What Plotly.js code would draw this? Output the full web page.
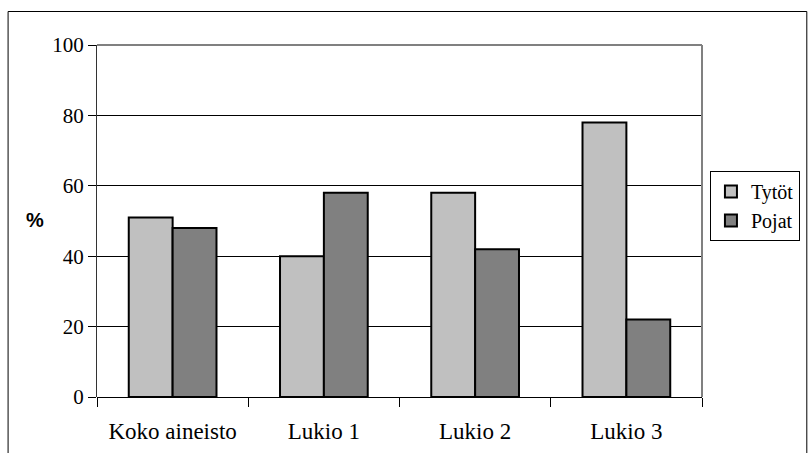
<!DOCTYPE html>
<html>
<head>
<meta charset="utf-8">
<script src="https://cdn.plot.ly/plotly-3.0.1.min.js"></script>
<style>
html,body{margin:0;padding:0;background:#fff;}
#chart{width:812px;height:453px;}
#chart .xtick text, #chart .ytick text, #chart .legendtext {
  font-family: "Liberation Serif", "Times New Roman", serif !important;
}
#chart .annotation text {
  font-family: "Liberation Sans", Arial, sans-serif !important;
}
</style>
</head>
<body>
<div id="chart"></div>
<script>
const categories = ["Koko aineisto", "Lukio 1", "Lukio 2", "Lukio 3"];
const tytot = [51, 40, 58, 78];
const pojat = [48, 58, 42, 22];
const seriesNames = ["Tytöt", "Pojat"];
const yTicks = [0, 20, 40, 60, 80, 100];

const serif = "Liberation Serif, Times New Roman, serif";

const traces = [
  {type: "bar", name: seriesNames[0], x: categories, y: tytot,
   marker: {color: "#c0c0c0", line: {color: "#000", width: 2}}},
  {type: "bar", name: seriesNames[1], x: categories, y: pojat,
   marker: {color: "#808080", line: {color: "#000", width: 2}}}
];

const L = 97, R = 706, T = 45, B = 397, W = 812, H = 453;
const pw = R - L, ph = B - T;
function px(x){return (x - L) / pw;}
function py(y){return (B - y) / ph;}

const layout = {
  width: W, height: H,
  margin: {l: L, r: W - R, t: T, b: H - B, pad: 0},
  paper_bgcolor: "#fff", plot_bgcolor: "#fff",
  barmode: "group", bargap: 0.42, bargroupgap: 0,
  showlegend: true,
  legend: {x: px(714), y: py(171), xanchor: "left", yanchor: "top",
    bordercolor: "#000", borderwidth: 1, bgcolor: "#fff",
    font: {family: serif, size: 20, color: "#000"},
    tracegroupgap: 4, itemwidth: 30},
  font: {family: serif, color: "#000"},
  xaxis: {tickson: "boundaries", ticks: "outside", ticklen: 9, tickcolor: "#000",
    tickwidth: 1, showline: false, showgrid: false, zeroline: false,
    ticklabelstandoff: 18,
    tickfont: {family: serif, size: 23, color: "#000"}, automargin: false},
  yaxis: {range: [0, 100], tickvals: yTicks, ticks: "outside", ticklen: 8,
    tickcolor: "#000", tickwidth: 1, showline: true, linecolor: "#333", linewidth: 1,
    showgrid: true, gridcolor: "#000", gridwidth: 1, zeroline: true, zerolinecolor: "#000",
    zerolinewidth: 1, tickfont: {family: serif, size: 21, color: "#000"}, automargin: false},
  shapes: [
    {type: "line", xref: "paper", yref: "paper", x0: 0, x1: 1, y0: 1, y1: 1,
     line: {color: "#808080", width: 2}},
    {type: "line", xref: "paper", yref: "paper", x0: 1, x1: 1, y0: 0, y1: 1,
     line: {color: "#808080", width: 2}},
    {type: "rect", xref: "paper", yref: "paper", x0: px(7.5), x1: px(811.5), y0: py(11.5), y1: py(460),
     line: {color: "#000", width: 1}, layer: "below"}
  ],
  annotations: [
    {text: "<b>%</b>", xref: "paper", yref: "paper", x: px(24), y: py(220),
     showarrow: false, font: {family: "Liberation Sans, Arial, sans-serif", size: 20, color: "#000"}}
  ]
};

Plotly.newPlot("chart", traces, layout, {displayModeBar: false, staticPlot: true});
</script>
</body>
</html>
